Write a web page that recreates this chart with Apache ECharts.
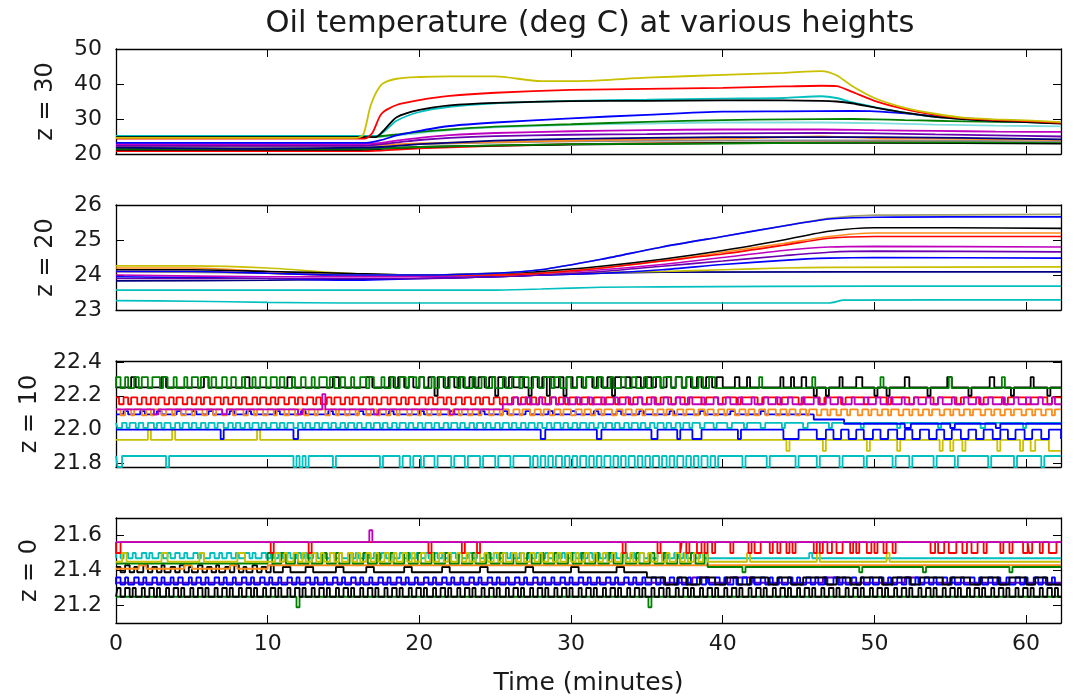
<!DOCTYPE html>
<html><head><meta charset="utf-8">
<script src="https://cdn.jsdelivr.net/npm/echarts@6/dist/echarts.min.js"></script>
<style>html,body{margin:0;padding:0;background:#fff}#c{width:1073px;height:698px}</style>
</head><body><div id="c"></div>
<script>
// ---------- text ----------
const title = 'Oil temperature (deg C) at various heights';
const xName = 'Time (minutes)';
const panelNames = ['z = 30', 'z = 20', 'z = 10', 'z = 0'];
const xTicks = [0, 10, 20, 30, 40, 50, 60];
const yTicks30 = [20, 30, 40, 50];
const yTicks20 = [23, 24, 25, 26];
const yTicks10 = [21.8, 22.0, 22.2, 22.4];
const yTicks0 = [21.2, 21.4, 21.6];

// ---------- z = 30 (flat t,v pairs) ----------
const z30_cyan2 = [0,24.8, 17,24.8, 18.5,25.3, 20,26, 22,26.8, 25,27.6, 30,28.3, 35,28.7, 40,29, 46.5,29, 50,28.8, 54,28.4, 58,28.1, 62.3,27.9];
const z30_redlow = [0,20.8, 16,20.8, 17.5,21, 20,21.6, 25,22.3, 30,22.8, 40,23.2, 50,23.4, 62.3,23.2];
const z30_blacklow = [0,21.2, 16,21.2, 17.5,21.5, 20,22, 25,22.4, 30,22.7, 40,23.1, 50,23.2, 62.3,23];
const z30_greenlow = [0,21.5, 16,21.5, 20,22, 30,22.8, 40,23, 50,23.3, 62.3,23.4];
const z30_gray = [0,22, 16,22, 20,22.8, 30,23.6, 40,23.8, 50,23.9, 62.3,23.6];
const z30_orange = [0,22.4, 16,22.4, 17.5,22.6, 20,23, 25,23.4, 30,23.8, 35,24.2, 40,24.4, 46.5,25, 50,24.5, 54,24.4, 58,24.2, 62.3,24];
const z30_navy = [0,21.8, 6,21.6, 9,21.5, 16,21.8, 17.5,22, 20,22.8, 25,23.8, 30,24.3, 40,24.8, 50,24.8, 62.3,24.2];
const z30_purple = [0,22.3, 16,22.3, 18.5,23.3, 20,24, 22,24.6, 25,25.1, 30,25.5, 35,25.7, 40,25.9, 46.5,26, 50,25.9, 54,25.6, 58,25.3, 62.3,25];
const z30_magenta = [0,22.8, 16,22.8, 17.5,23.2, 18.5,23.8, 20,24.6, 22,25.4, 25,26, 30,26.5, 35,26.8, 40,27, 46.5,27, 50,26.8, 54,26.6, 58,26.4, 62.3,26.3];
const z30_green = [0,25.0, 17,25.0, 18.5,25.6, 20,26.3, 22,27, 25,27.8, 30,28.5, 35,29.2, 40,29.7, 44,29.9, 48.5,30, 50,29.9, 52,29.7, 54,29.5, 56,29.3, 58,29.2, 60,29.1, 62.3,29];
const z30_blue = [0,23.2, 16.5,23.2, 17.5,24, 18.5,25.3, 20,26.6, 22,28, 25,29, 30,30.2, 35,31.2, 40,32.1, 44,32.2, 48.5,32.3, 50,32.2, 52,31.6, 54,30.8, 56,30.2, 58,29.7, 60,29.3, 62.3,28.8];
const z30_cyan = [0,25.2, 17.2,25.2, 17.7,26.5, 18.5,29.5, 20,32, 22,33.5, 25,34.5, 30,35.2, 35,35.5, 40,35.8, 44,36, 46.5,36.5, 47.5,36, 48.5,34.8, 50,33.4, 52,31.8, 54,30.6, 56,29.9, 58,29.4, 60,29.1, 62.3,28.8];
const z30_black = [0,24.8, 17.1,24.8, 17.6,26.5, 18.5,30.5, 20,32.6, 22,33.9, 25,34.6, 30,35.1, 35,35.2, 40,35.3, 44,35.3, 46.5,35.2, 47.5,35, 48.5,34.5, 50,33.3, 52,31.8, 54,30.6, 56,29.9, 58,29.4, 60,29.1, 62.3,28.7];
const z30_red = [0,24.4, 16.4,24.4, 16.9,26, 17.5,31.5, 18.5,34, 20,35.4, 22,36.6, 25,37.5, 30,38.3, 35,38.6, 40,38.9, 44,39.3, 46.5,39.5, 47.5,39.4, 48.5,37.8, 50,35.2, 52,32.8, 54,31.2, 56,30.2, 58,29.7, 60,29.4, 62.3,28.9];
const z30_yellow = [0,24.6, 15.8,24.6, 16.3,25.5, 16.8,34, 17.5,39.8, 18.5,41.5, 20,42, 22,42.2, 25,42.2, 28,40.8, 31,40.9, 35,41.8, 40,42.6, 44,43.2, 46.5,43.7, 47.5,42.5, 48.5,39.5, 50,36, 52,33.2, 54,31.5, 56,30.3, 58,29.9, 60,29.6, 62.3,29.1];

// ---------- z = 20 ----------
const z20_cyanB = [0,23.27, 5,23.25, 10,23.22, 15,23.2, 47,23.2, 48,23.28, 62.3,23.29];
const z20_cyanA = [0,23.57, 25,23.57, 28,23.6, 32,23.65, 36,23.66, 50,23.68, 62.3,23.68];
const z20_navy = [0,23.83, 10,23.85, 20,23.9, 25,23.95, 28,24.0, 32,24.05, 36,24.08, 62.3,24.09];
const z20_yellow = [0,24.26, 5,24.26, 10,24.2, 15,24.05, 20,24.0, 28,24.05, 36,24.1, 40,24.15, 44,24.2, 47,24.22, 62.3,24.23];
const z20_blueB = [0,23.95, 10,23.9, 15,23.85, 20,23.9, 25,23.95, 28,24.0, 32,24.05, 36,24.15, 40,24.3, 44,24.42, 47,24.48, 50,24.5, 62.3,24.48];
const z20_purple = [0,23.9, 20,23.9, 25,23.95, 28,24.0, 32,24.1, 36,24.25, 40,24.4, 44,24.55, 47,24.65, 50,24.68, 62.3,24.66];
const z20_magenta = [0,24.0, 10,23.95, 20,23.95, 25,24.0, 28,24.05, 32,24.15, 36,24.3, 40,24.5, 44,24.7, 47,24.8, 50,24.82, 62.3,24.8];
const z20_orange = [0,24.2, 5,24.2, 10,24.1, 15,24.0, 20,24.0, 25,24.0, 28,24.05, 32,24.2, 36,24.4, 40,24.65, 44,24.9, 47,25.1, 50,25.2, 55,25.2, 62.3,25.2];
const z20_red = [0,24.1, 5,24.1, 10,24.05, 15,24.0, 20,24.0, 25,24.0, 28,24.05, 32,24.2, 36,24.4, 40,24.6, 44,24.85, 47,25.05, 50,25.1, 55,25.1, 62.3,25.1];
const z20_black = [0,24.15, 5,24.15, 10,24.1, 15,24.05, 20,24.0, 25,24.05, 28,24.1, 32,24.25, 36,24.45, 40,24.7, 44,25.0, 47,25.25, 50,25.35, 55,25.35, 62.3,25.33];
const z20_gray = [0,24.1, 10,24.05, 15,24.0, 20,24.0, 25,24.05, 28,24.15, 32,24.45, 36,24.8, 40,25.1, 44,25.4, 47,25.62, 50,25.71, 55,25.72, 62.3,25.73];
const z20_blueA = [0,24.1, 5,24.1, 10,24.05, 15,24.0, 20,24.0, 25,24.05, 28,24.15, 32,24.45, 36,24.8, 40,25.1, 44,25.4, 47,25.6, 50,25.65, 55,25.66, 62.3,25.66];

// ---------- z = 10 ----------
// two-level sensor series: base level, other level, and the [start,end] minutes spent at the other level
const z10_cyanLow_lv = [21.845, 21.78];
const z10_cyanLow_iv = [0.1,0.4, 3.3,3.5, 11.7,11.9, 12.1,12.3, 12.5,12.7, 14.3,14.5, 17.4,17.6, 18.7,18.9, 19.4,19.6, 20.1,20.3, 21.0,21.2, 22.1,22.3, 23.0,23.2, 24.0,24.2, 25.0,25.2, 26.0,26.2, 27.3,27.5, 27.8,28.0, 28.3,28.5, 28.8,29.0, 29.4,29.6, 29.9,30.1, 30.4,30.6, 31.0,31.2, 31.5,31.7, 32.0,32.2, 32.6,32.8, 33.1,33.3, 33.6,33.8, 34.2,34.4, 34.7,34.9, 35.2,35.4, 35.8,36.0, 36.3,36.5, 36.8,37.0, 37.4,37.6, 37.9,38.1, 38.4,38.6, 39.0,39.2, 39.5,39.7, 41.3,41.5, 42.9,43.1, 44.8,45.0, 46.2,46.4, 47.7,47.9, 49.3,49.5, 51.2,51.4, 52.3,52.5, 53.9,54.1, 55.3,55.5, 57.5,57.7, 59.2,59.4, 61.0,61.2];
const z10_yellowLow = [0,21.94, 2.1,22.0, 2.3,21.94, 3.7,22.0, 3.9,21.94, 9.3,22.0, 9.5,21.94, 44.2,21.875, 44.4,21.94, 46.6,21.875, 46.8,21.94, 49.5,21.875, 49.7,21.94, 51.5,21.875, 51.7,21.94, 54.3,21.875, 54.5,21.94, 55.0,21.875, 55.2,21.94, 55.8,21.875, 56.0,21.94, 58.1,21.875, 58.3,21.94, 59.6,21.875, 59.8,21.94, 60.3,21.875, 60.6,21.94, 61.5,21.875, 62.3,21.875];
const z10_blueLow = [0,22.0, 6.9,21.945, 7.1,22.0, 11.7,21.945, 12.0,22.0, 28.0,21.945, 28.3,22.0, 31.7,21.945, 32.0,22.0, 35.3,21.945, 35.7,22.0, 37.0,21.945, 37.2,22.0, 38.0,21.945, 38.6,22.0, 41.0,21.945, 41.2,22.0, 44.0,21.945, 45.0,22.0, 46.2,21.945, 46.8,22.0, 47.3,21.945, 47.8,22.0, 48.3,21.945, 48.8,22.0, 49.3,21.945, 49.9,22.0, 50.4,21.945, 50.9,22.0, 51.5,21.945, 52.0,22.0, 52.5,21.945, 53.0,22.0, 53.6,21.945, 54.1,22.0, 54.6,21.945, 55.1,22.0, 55.7,21.945, 56.2,22.0, 56.7,21.945, 57.2,22.0, 57.8,21.945, 58.3,22.0, 58.8,21.945, 59.3,22.0, 59.9,21.945, 60.4,22.0, 61.0,21.945, 61.5,22.0, 62.3,21.945];
const z10_cyanUp_lv = [22.04, 22.01];
const z10_cyanUp_iv = [0.1,0.4, 0.7,0.9, 1.3,1.5, 1.8,2.1, 2.5,2.7, 3.0,3.2, 3.6,3.9, 4.2,4.4, 4.8,5.0, 5.3,5.6, 5.9,6.1, 6.5,6.7, 7.1,7.4, 7.7,7.9, 8.2,8.5, 8.8,9.0, 9.4,9.6, 9.9,10.2, 10.6,10.8, 11.1,11.3, 11.7,12.0, 12.3,12.5, 12.8,13.1, 13.4,13.6, 14.0,14.2, 14.5,14.8, 15.1,15.3, 15.7,15.9, 16.2,16.5, 16.8,17.0, 17.4,17.6, 17.9,18.2, 18.5,18.7, 19.1,19.3, 19.6,19.9, 20.2,20.4, 20.8,21.0, 21.3,21.6, 21.9,22.1, 22.5,22.7, 23.0,23.3, 23.6,23.8, 24.2,24.4, 24.7,25.0, 25.3,25.5, 25.9,26.1, 26.4,26.7, 27.0,27.2, 27.6,27.8, 28.1,28.4, 28.7,28.9, 29.3,29.5, 29.8,30.1, 30.4,30.6, 31.0,31.2, 31.5,31.8, 32.1,32.3, 32.7,32.9, 33.2,33.5, 33.8,34.0, 34.4,34.6, 34.9,35.2, 35.5,35.7, 36.1,36.3, 36.6,36.9, 37.2,37.4, 37.8,38.0, 38.5,38.8, 39.4,39.6, 40.3,40.6, 41.4,41.6, 42.5,42.8, 43.9,44.1, 45.3,45.6, 47.0,47.2, 49.1,49.3, 51.5,51.7, 54.2,54.4, 57.0,57.3, 59.8,60.0];
const z10_blueUp = [0,22.09, 0.5,22.11, 0.8,22.09, 1.6,22.11, 1.9,22.09, 2.7,22.11, 3.0,22.09, 4.0,22.11, 4.3,22.09, 5.0,22.11, 5.3,22.09, 6.1,22.11, 6.4,22.09, 7.5,22.11, 7.8,22.09, 8.6,22.11, 8.9,22.09, 10.5,22.11, 10.8,22.09, 12.2,22.11, 12.5,22.09, 14.0,22.11, 14.3,22.09, 16.0,22.11, 16.3,22.09, 18.0,22.11, 18.3,22.09, 20.0,22.11, 20.3,22.09, 22.0,22.11, 22.3,22.09, 24.0,22.11, 24.3,22.09, 25.5,22.11, 25.8,22.09, 27.0,22.11, 27.3,22.09, 28.5,22.11, 28.8,22.09, 30.0,22.11, 30.3,22.09, 31.5,22.11, 31.8,22.09, 33.0,22.11, 33.3,22.09, 34.5,22.11, 34.8,22.09, 36.5,22.11, 36.8,22.09, 38.5,22.11, 38.8,22.09, 40.5,22.11, 40.8,22.09, 42.5,22.11, 42.8,22.09, 46.0,22.06, 48.0,22.035, 52.0,22.01, 52.4,22.035, 55.0,22.01, 55.3,22.035, 58.0,22.01, 58.3,22.035, 62.3,22.035];
const z10_orange_lv = [22.12, 22.085];
const z10_orange_iv = [0.3,0.6, 1.0,1.2, 1.7,2.0, 2.3,2.5, 3.0,3.3, 3.7,3.9, 4.3,4.6, 5.0,5.2, 5.7,6.0, 6.4,6.6, 7.0,7.3, 7.7,7.9, 8.4,8.7, 9.1,9.3, 9.7,10.0, 10.4,10.6, 11.1,11.4, 11.8,12.0, 12.4,12.7, 13.1,13.3, 13.8,14.1, 14.5,14.7, 15.1,15.4, 15.8,16.0, 16.5,16.8, 17.2,17.4, 17.8,18.1, 18.5,18.7, 19.2,19.5, 19.9,20.1, 20.5,20.8, 21.2,21.4, 21.9,22.2, 22.6,22.8, 23.2,23.5, 23.9,24.1, 24.6,24.9, 25.3,25.5, 25.9,26.2, 26.6,26.8, 27.3,27.6, 28.0,28.2, 28.6,28.9, 29.3,29.5, 30.0,30.3, 30.7,30.9, 31.3,31.6, 32.0,32.2, 32.7,33.0, 33.4,33.6, 34.0,34.3, 34.7,34.9, 35.4,35.7, 36.1,36.3, 36.7,37.0, 37.4,37.6, 38.1,38.4, 38.8,39.0, 39.4,39.7, 40.1,40.3, 40.8,41.1, 41.5,41.7, 42.1,42.4, 42.8,43.0, 43.5,43.8, 44.2,44.4, 44.8,45.1, 45.5,45.7, 46.2,46.5, 46.9,47.1, 47.5,47.8, 48.2,48.4, 48.9,49.2, 49.6,49.8, 50.2,50.5, 50.9,51.1, 51.6,51.9, 52.3,52.5, 52.9,53.2, 53.6,53.8, 54.3,54.6, 55.0,55.2, 55.6,55.9, 56.3,56.5, 57.0,57.3, 57.7,57.9, 58.3,58.6, 59.0,59.2, 59.7,60.0, 60.4,60.6, 61.0,61.3, 61.7,61.9];
const z10_red_lv = [22.19, 22.15];
const z10_red_iv = [0.2,0.5, 0.8,1.0, 1.4,1.7, 2.0,2.3, 2.6,2.8, 3.2,3.5, 3.8,4.0, 4.4,4.7, 5.0,5.3, 5.6,5.8, 6.2,6.5, 6.9,7.1, 7.4,7.7, 8.1,8.3, 8.6,9.0, 9.3,9.5, 9.9,10.2, 10.5,10.7, 11.1,11.4, 11.8,12.0, 12.3,12.6, 13.0,13.2, 13.5,13.9, 14.2,14.4, 14.8,15.1, 15.4,15.6, 16.0,16.3, 16.7,16.9, 17.2,17.5, 17.9,18.1, 18.5,18.8, 19.1,19.3, 19.7,20.0, 20.4,20.6, 20.9,21.2, 21.6,21.8, 22.1,22.4, 22.8,23.0, 23.4,23.7, 24.0,24.2, 24.6,24.9, 25.3,25.5, 25.8,26.1, 26.5,26.7, 27.1,27.4, 27.7,27.9, 28.3,28.6, 29.0,29.2, 29.6,29.9, 30.4,30.7, 31.2,31.5, 32.0,32.3, 32.9,33.2, 33.8,34.1, 34.7,35.0, 35.6,35.9, 36.6,36.9, 37.5,37.8, 38.6,38.9, 39.7,40.0, 40.9,41.2, 42.3,42.6, 43.6,43.9, 45.0,45.3, 46.4,46.7, 47.8,48.1, 49.3,49.6, 50.8,51.1, 52.3,52.6, 53.9,54.2, 55.4,55.7, 56.9,57.2, 58.5,58.8, 60.0,60.3, 61.4,61.7];
const z10_magenta = [0,22.12, 2.5,22.09, 2.8,22.12, 7.0,22.09, 7.3,22.12, 12.0,22.09, 12.3,22.12, 13.6,22.21, 13.8,22.12, 17.0,22.09, 17.3,22.12, 22.0,22.09, 22.3,22.12, 25.5,22.15, 26.2,22.19, 26.5,22.15, 27.0,22.19, 27.3,22.15, 27.9,22.19, 28.1,22.15, 28.7,22.19, 29.0,22.15, 29.5,22.19, 29.8,22.15, 30.3,22.19, 30.6,22.15, 31.1,22.19, 31.4,22.15, 32.0,22.19, 32.2,22.15, 32.8,22.19, 33.1,22.15, 33.6,22.19, 33.9,22.15, 34.4,22.19, 34.7,22.15, 35.3,22.19, 35.5,22.15, 36.1,22.19, 36.4,22.15, 36.9,22.19, 37.2,22.15, 37.7,22.19, 38.0,22.15, 38.6,22.19, 38.8,22.15, 39.4,22.19, 39.7,22.15, 40.2,22.19, 40.5,22.15, 41.0,22.19, 41.3,22.15, 41.9,22.19, 42.1,22.15, 42.7,22.19, 43.0,22.15, 43.5,22.19, 43.8,22.15, 44.3,22.19, 44.6,22.15, 45.2,22.19, 45.4,22.15, 46.0,22.19, 46.3,22.15, 46.8,22.19, 47.1,22.15, 47.6,22.19, 47.9,22.15, 48.5,22.19, 48.7,22.15, 49.3,22.19, 49.6,22.15, 50.1,22.19, 50.4,22.15, 50.9,22.19, 51.2,22.15, 51.8,22.19, 52.0,22.15, 52.6,22.19, 52.9,22.15, 53.4,22.19, 53.7,22.15, 54.2,22.19, 54.5,22.15, 55.1,22.19, 55.3,22.15, 55.9,22.19, 56.2,22.15, 56.7,22.19, 57.0,22.15, 57.5,22.19, 57.8,22.15, 58.4,22.19, 58.6,22.15, 59.2,22.19, 59.5,22.15, 60.0,22.19, 60.3,22.15, 60.8,22.19, 61.1,22.15, 61.7,22.19, 61.9,22.15, 62.3,22.15];
const z10_black = [0,22.25, 1.0,22.31, 1.3,22.25, 3.0,22.31, 3.3,22.25, 5.8,22.31, 6.1,22.25, 8.5,22.31, 8.8,22.25, 11.3,22.31, 11.6,22.25, 14.3,22.31, 14.7,22.25, 16.5,22.31, 16.9,22.25, 18.0,22.31, 18.3,22.25, 18.6,22.31, 19.0,22.25, 19.3,22.31, 19.6,22.25, 20.0,22.31, 20.3,22.25, 20.6,22.31, 21.0,22.2, 21.2,22.31, 21.6,22.25, 21.9,22.31, 22.3,22.25, 22.6,22.31, 22.9,22.25, 23.3,22.31, 23.6,22.25, 23.9,22.31, 24.3,22.25, 24.6,22.31, 25.0,22.2, 25.2,22.31, 25.6,22.25, 25.9,22.31, 26.2,22.25, 26.6,22.31, 26.9,22.25, 27.2,22.2, 27.4,22.31, 27.8,22.25, 28.1,22.31, 28.4,22.2, 28.6,22.31, 28.9,22.25, 29.2,22.31, 29.5,22.2, 29.7,22.31, 30.1,22.25, 30.4,22.31, 30.7,22.25, 31.0,22.31, 31.4,22.25, 31.7,22.31, 32.0,22.25, 32.4,22.31, 32.7,22.2, 32.9,22.31, 33.3,22.25, 33.6,22.31, 33.9,22.25, 34.3,22.31, 34.6,22.25, 34.9,22.31, 35.3,22.25, 35.6,22.31, 35.9,22.25, 36.3,22.31, 36.6,22.25, 36.9,22.31, 37.3,22.25, 37.6,22.31, 37.9,22.25, 38.3,22.31, 38.6,22.25, 38.9,22.31, 39.3,22.25, 39.6,22.31, 40.0,22.25, 40.8,22.31, 41.1,22.25, 41.6,22.31, 41.8,22.25, 43.8,22.31, 44.0,22.25, 44.5,22.31, 44.7,22.25, 45.2,22.31, 45.5,22.25, 46.0,22.2, 46.2,22.25, 46.8,22.2, 47.0,22.25, 47.7,22.31, 47.9,22.25, 48.8,22.31, 49.2,22.25, 50.0,22.2, 50.2,22.25, 50.8,22.2, 51.0,22.25, 52.0,22.31, 52.3,22.25, 53.5,22.2, 53.7,22.25, 54.8,22.31, 55.1,22.25, 56.2,22.2, 56.4,22.25, 57.6,22.31, 57.9,22.25, 59.0,22.2, 59.2,22.25, 60.3,22.31, 60.5,22.25, 61.4,22.2, 61.6,22.25, 62.3,22.25];
const z10_green_lv = [22.245, 22.31];
const z10_green_iv = [0,0.3, 0.6,0.8, 1.2,1.5, 1.7,2.1, 2.4,2.9, 3.1,3.4, 3.8,4.0, 4.5,4.7, 5.0,5.4, 5.6,6.1, 6.3,6.6, 7.0,7.3, 7.6,7.9, 8.3,8.5, 9.0,9.2, 9.5,9.9, 10.2,10.6, 10.8,11.1, 11.6,11.8, 12.2,12.5, 12.9,13.1, 13.4,13.9, 14.1,14.4, 14.8,15.1, 15.5,15.7, 16.1,16.5, 16.7,17.0, 17.5,17.7, 18.1,18.4, 18.7,19.1, 19.3,19.8, 20.0,20.3, 20.8,21.0, 21.3,21.7, 22.0,22.5, 22.7,23.0, 23.5,23.7, 24.1,24.4, 24.8,25.0, 25.5,25.7, 26.1,26.6, 26.8,27.2, 27.5,27.9, 28.2,28.7, 28.9,29.3, 29.7,30.0, 30.4,30.8, 31.0,31.5, 31.8,32.1, 32.6,32.8, 33.3,33.6, 34.0,34.3, 34.8,35.0, 35.4,35.9, 36.1,36.6, 36.9,37.3, 37.6,38.0, 38.4,38.7, 39.1,39.5, 42.4,42.6, 45.9,46.1, 50.4,50.6, 54.9,55.1, 58.4,58.6];

// ---------- z = 0 ----------
const z0_greenLow = [0,21.25, 11.9,21.19, 12.1,21.25, 35.1,21.19, 35.3,21.25, 62.3,21.25];
const z0_blackLow_lv = [21.25, 21.3];
const z0_blackLow_iv = [0.1,0.3, 0.6,0.9, 1.1,1.3, 1.7,1.9, 2.2,2.5, 2.7,2.9, 3.3,3.5, 3.8,4.1, 4.3,4.5, 4.9,5.1, 5.4,5.7, 5.9,6.1, 6.5,6.7, 7.0,7.3, 7.5,7.7, 8.1,8.3, 8.6,8.9, 9.1,9.3, 9.7,9.9, 10.2,10.5, 10.7,10.9, 11.3,11.5, 11.8,12.1, 12.3,12.5, 12.9,13.1, 13.4,13.7, 13.9,14.1, 14.5,14.7, 15.0,15.3, 15.5,15.7, 16.1,16.3, 16.6,16.9, 17.1,17.3, 17.7,17.9, 18.2,18.5, 18.7,18.9, 19.3,19.5, 19.8,20.1, 20.3,20.5, 20.9,21.1, 21.4,21.7, 21.9,22.1, 22.5,22.7, 23.0,23.3, 23.5,23.7, 24.1,24.3, 24.6,24.9, 25.1,25.3, 25.7,25.9, 26.2,26.5, 26.7,26.9, 27.3,27.5, 27.8,28.1, 28.3,28.5, 28.9,29.1, 29.4,29.7, 29.9,30.1, 30.5,30.7, 31.0,31.3, 31.5,31.7, 32.1,32.3, 32.6,32.9, 33.1,33.3, 33.7,33.9, 34.2,34.5, 34.7,34.9, 35.3,35.5, 35.8,36.1, 36.3,36.5, 36.9,37.1, 37.4,37.7, 37.9,38.1, 38.5,38.7, 39.0,39.3, 39.5,39.7, 40.1,40.3, 40.6,40.9, 41.1,41.3, 41.7,41.9, 42.2,42.5, 42.7,42.9, 43.3,43.5, 43.8,44.1, 44.3,44.5, 44.9,45.1, 45.4,45.7, 45.9,46.1, 46.5,46.7, 47.0,47.3, 47.5,47.7, 48.1,48.3, 48.6,48.9, 49.1,49.3, 49.7,49.9, 50.2,50.5, 50.7,50.9, 51.3,51.5, 51.8,52.1, 52.3,52.5, 52.9,53.1, 53.4,53.7, 53.9,54.1, 54.5,54.7, 55.0,55.3, 55.5,55.7, 56.1,56.3, 56.6,56.9, 57.1,57.3, 57.7,57.9, 58.2,58.5, 58.7,58.9, 59.3,59.5, 59.8,60.1, 60.3,60.5, 60.9,61.1, 61.4,61.7, 61.9,62.1];
const z0_purple = [0,21.33, 36,21.33, 38,21.36, 39,21.33, 40.5,21.36, 42,21.33, 46.6,21.36, 47.7,21.33, 52,21.36, 53,21.33, 62.3,21.33];
const z0_blue_lv = [21.32, 21.36];
const z0_blue_iv = [0.0,0.3, 0.6,0.8, 1.2,1.5, 1.8,2.0, 2.4,2.7, 3.0,3.2, 3.6,3.8, 4.1,4.4, 4.8,5.0, 5.3,5.6, 5.9,6.1, 6.5,6.8, 7.1,7.3, 7.7,7.9, 8.3,8.6, 8.9,9.1, 9.5,9.8, 10.1,10.3, 10.7,10.9, 11.3,11.6, 11.9,12.1, 12.5,12.8, 13.1,13.3, 13.7,13.9, 14.3,14.6, 14.9,15.1, 15.5,15.8, 16.1,16.3, 16.7,16.9, 17.3,17.6, 17.9,18.1, 18.5,18.8, 19.1,19.3, 19.7,19.9, 20.3,20.6, 20.9,21.1, 21.5,21.8, 22.1,22.3, 22.7,22.9, 23.3,23.6, 23.9,24.1, 24.5,24.8, 25.1,25.3, 25.7,25.9, 26.3,26.6, 26.9,27.1, 27.5,27.8, 28.1,28.3, 28.7,28.9, 29.3,29.6, 29.9,30.1, 30.5,30.8, 31.1,31.3, 31.7,31.9, 32.3,32.6, 32.9,33.1, 33.5,33.8, 34.1,34.3, 34.7,34.9, 35.3,35.6, 35.9,36.1, 36.5,36.8, 37.1,37.3, 37.7,37.9, 38.3,38.6, 38.9,39.1, 39.5,39.8, 40.1,40.3, 40.7,40.9, 41.3,41.6, 41.9,42.1, 42.5,42.8, 43.1,43.3, 43.7,43.9, 44.3,44.6, 44.9,45.1, 45.5,45.8, 46.1,46.3, 46.7,46.9, 47.3,47.6, 47.9,48.1, 48.5,48.8, 49.1,49.3, 49.7,49.9, 50.3,50.6, 50.9,51.1, 51.5,51.8, 52.1,52.3, 52.7,52.9, 53.3,53.6, 53.9,54.1, 54.5,54.8, 55.1,55.3, 55.7,55.9, 56.3,56.6, 56.9,57.1, 57.5,57.8, 58.1,58.3, 58.7,58.9, 59.3,59.6, 59.9,60.1, 60.5,60.8, 61.1,61.3, 61.7,61.9];
const z0_blackUp = [0,21.42, 0.3,21.39, 0.6,21.43, 0.9,21.39, 1.2,21.42, 1.4,21.39, 1.8,21.43, 2.1,21.39, 2.4,21.42, 2.7,21.39, 3.0,21.43, 3.2,21.39, 3.6,21.42, 3.9,21.39, 4.2,21.43, 4.5,21.39, 4.8,21.42, 5.0,21.39, 5.4,21.43, 5.7,21.39, 6.0,21.42, 6.3,21.39, 6.6,21.43, 6.8,21.39, 7.2,21.42, 7.5,21.39, 7.8,21.43, 8.1,21.39, 8.4,21.42, 8.6,21.39, 9.0,21.43, 9.3,21.39, 9.6,21.42, 9.9,21.39, 10.2,21.43, 10.4,21.39, 11.0,21.42, 11.5,21.39, 12.5,21.42, 13.0,21.39, 14.5,21.42, 15.0,21.39, 16.5,21.42, 17.0,21.39, 19.0,21.42, 19.5,21.39, 21.5,21.42, 22.0,21.39, 24.0,21.42, 24.5,21.39, 27.0,21.42, 27.5,21.39, 30.0,21.42, 30.5,21.39, 33.0,21.42, 33.5,21.39, 35.0,21.36, 36.2,21.32, 37.0,21.36, 37.6,21.32, 38.5,21.36, 39.5,21.32, 40.2,21.36, 41.0,21.32, 41.8,21.36, 43.0,21.32, 43.6,21.36, 44.5,21.32, 45.3,21.36, 46.8,21.32, 47.5,21.36, 48.4,21.32, 49.1,21.36, 50.5,21.32, 51.2,21.36, 52.4,21.32, 53.0,21.36, 54.5,21.32, 55.0,21.36, 56.3,21.32, 57.0,21.36, 58.2,21.32, 58.9,21.36, 60.0,21.32, 60.6,21.36, 61.4,21.32, 62.3,21.32];
const z0_orange = [0,21.41, 1.5,21.43, 2.0,21.41, 4.5,21.43, 5.0,21.41, 7.5,21.43, 8.0,21.41, 10.0,21.43, 62.3,21.43];
const z0_cyan_lv = [21.47, 21.5];
const z0_cyan_iv = [0.0,0.3, 0.5,0.8, 1.1,1.3, 1.7,2.0, 2.2,2.4, 2.8,3.1, 3.4,3.6, 3.9,4.2, 4.5,4.7, 5.1,5.4, 5.6,5.8, 6.2,6.5, 6.8,7.0, 7.3,7.6, 7.9,8.1, 8.5,8.8, 9.0,9.2, 9.6,9.9, 10.2,10.4, 10.7,11.0, 11.3,11.5, 11.9,12.2, 12.4,12.6, 13.0,13.3, 13.6,13.8, 14.1,14.4, 14.7,14.9, 15.3,15.6, 15.8,16.0, 16.4,16.7, 17.0,17.2, 17.5,17.8, 18.1,18.3, 18.7,19.0, 19.2,19.4, 19.8,20.1, 20.4,20.6, 20.9,21.2, 21.5,21.7, 22.1,22.4, 22.6,22.8, 23.2,23.5, 23.8,24.0, 24.3,24.6, 24.9,25.1, 25.5,25.8, 26.0,26.2, 26.6,26.9, 27.2,27.4, 27.7,28.0, 28.3,28.5, 28.9,29.2, 29.4,29.6, 30.0,30.3, 30.6,30.8, 31.1,31.4, 31.7,31.9, 32.3,32.6, 32.8,33.0, 33.4,33.7, 34.0,34.2, 34.5,34.8, 35.1,35.3, 35.7,36.0, 36.2,36.4, 36.8,37.1, 37.4,37.6, 37.9,38.2, 38.5,38.7, 45.7,45.9];
const z0_green = [0,21.44, 10.0,21.5, 10.3,21.44, 10.9,21.5, 11.2,21.44, 11.8,21.5, 12.0,21.44, 12.7,21.5, 12.9,21.44, 13.6,21.5, 13.9,21.44, 14.5,21.5, 14.7,21.44, 15.4,21.5, 15.6,21.44, 16.3,21.5, 16.6,21.44, 17.2,21.5, 17.4,21.44, 18.1,21.5, 18.3,21.44, 19.0,21.5, 19.3,21.44, 19.9,21.5, 20.1,21.44, 20.8,21.5, 21.0,21.44, 21.7,21.5, 22.0,21.44, 22.6,21.5, 22.8,21.44, 23.5,21.5, 23.7,21.44, 24.4,21.5, 24.7,21.44, 25.3,21.5, 25.5,21.44, 26.2,21.5, 26.4,21.44, 27.1,21.5, 27.4,21.44, 28.0,21.5, 28.2,21.44, 28.9,21.5, 29.1,21.44, 29.8,21.5, 30.1,21.44, 30.7,21.5, 30.9,21.44, 31.6,21.5, 31.8,21.44, 32.5,21.5, 32.8,21.44, 33.4,21.5, 33.6,21.44, 34.3,21.5, 34.5,21.44, 35.2,21.5, 35.5,21.44, 36.1,21.5, 36.3,21.44, 37.0,21.5, 37.2,21.44, 37.9,21.5, 38.2,21.44, 38.8,21.5, 39.0,21.42, 41.3,21.39, 41.5,21.42, 49.0,21.39, 49.2,21.42, 53.2,21.39, 53.4,21.42, 58.9,21.39, 59.1,21.42, 62.3,21.42];
const z0_yellow_lv = [21.45, 21.5];
const z0_yellow_iv = [0.4,0.7, 3.0,3.4, 5.5,5.8, 8.0,8.5, 10.5,10.8, 11.1,11.3, 11.7,12.0, 12.3,12.5, 12.9,13.2, 13.5,13.7, 14.1,14.4, 14.7,14.9, 15.3,15.6, 15.9,16.1, 16.5,16.8, 17.1,17.3, 17.7,18.0, 18.3,18.5, 18.9,19.2, 19.5,19.7, 20.1,20.4, 20.7,20.9, 21.3,21.6, 21.9,22.1, 22.5,22.8, 23.1,23.3, 23.7,24.0, 24.3,24.5, 24.9,25.2, 25.5,25.7, 26.1,26.4, 26.7,26.9, 27.3,27.6, 27.9,28.1, 28.5,28.8, 29.1,29.3, 29.7,30.0, 30.3,30.5, 30.9,31.2, 31.5,31.7, 32.1,32.4, 32.7,32.9, 33.3,33.6, 33.9,34.1, 34.5,34.8, 35.1,35.3, 35.7,36.0, 36.3,36.5, 36.9,37.2, 37.5,37.7, 38.1,38.4, 38.7,39.0, 41.6,41.8, 46.2,46.4, 50.8,51.0];
const z0_red_lv = [21.5625, 21.5];
const z0_red_iv = [0,0.3, 10.2,10.4, 12.7,12.9, 20.6,20.8, 22.8,23.0, 23.8,24.0, 33.4,33.6, 35.7,35.9, 37.2,37.3, 37.6,37.8, 38.3,38.6, 38.8,39.0, 39.3,39.5, 40.5,40.7, 41.7,41.9, 42.1,42.5, 43.1,43.3, 43.6,43.8, 44.2,44.4, 44.6,44.8, 46.0,46.2, 46.4,46.6, 46.9,47.2, 47.5,47.9, 48.4,48.6, 48.8,49.0, 49.5,49.8, 50.0,50.2, 50.6,50.8, 51.2,51.4, 53.7,54.0, 54.2,54.6, 54.9,55.4, 55.8,56.1, 56.4,56.8, 57.2,57.4, 58.3,58.5, 58.9,59.1, 59.8,60.1, 60.2,60.4, 60.9,61.1, 61.5,62.0];
const z0_magenta = [0,21.5625, 16.7,21.63, 16.9,21.5625, 62.3,21.5625];

// ---------- build ----------
const T_END = 62.3;
const C = {b:'#0000ff', g:'#008000', r:'#ff0000', c:'#00bfbf', m:'#bf00bf', y:'#c8c000', k:'#000000',
  o:'#ff8c1a', p:'#6a00b0', n:'#000080', gr:'#8c8c8c', lc:'#80dede', ol:'#a0a070'};
function pairs(flat){const o=[];for(let i=0;i<flat.length;i+=2)o.push([flat[i],flat[i+1]]);return o;}
function levels(lv, iv){
  const o=[[0,lv[0]]];
  for(let i=0;i<iv.length;i+=2){o.push([iv[i],lv[1]]);o.push([iv[i+1],lv[0]]);}
  o.push([T_END,lv[0]]);return o;
}
const panels = [
  {step:false, w:1.8, list:[[pairs(z30_redlow),C.r],[pairs(z30_blacklow),C.k],[pairs(z30_greenlow),C.g],[pairs(z30_gray),C.gr],[pairs(z30_orange),C.o],[pairs(z30_navy),C.n],[pairs(z30_purple),C.p],[pairs(z30_magenta),C.m],[pairs(z30_cyan2),C.lc],[pairs(z30_green),C.g],[pairs(z30_blue),C.b],[pairs(z30_cyan),C.c],[pairs(z30_black),C.k],[pairs(z30_red),C.r],[pairs(z30_yellow),C.y]]},
  {step:false, w:1.7, list:[[pairs(z20_cyanB),C.c],[pairs(z20_cyanA),C.c],[pairs(z20_navy),C.n],[pairs(z20_yellow),C.y],[pairs(z20_blueB),C.b],[pairs(z20_purple),C.p],[pairs(z20_magenta),C.m],[pairs(z20_orange),C.o],[pairs(z20_red),C.r],[pairs(z20_black),C.k],[pairs(z20_gray),C.ol],[pairs(z20_blueA),C.b]]},
  {step:true, w:1.8, list:[[levels(z10_cyanLow_lv,z10_cyanLow_iv),C.c],[pairs(z10_yellowLow),C.y],[pairs(z10_blueLow),C.b],[levels(z10_cyanUp_lv,z10_cyanUp_iv),C.c],[pairs(z10_blueUp),C.b],[levels(z10_orange_lv,z10_orange_iv),C.o],[levels(z10_red_lv,z10_red_iv),C.r],[pairs(z10_magenta),C.m],[pairs(z10_black),C.k],[levels(z10_green_lv,z10_green_iv),C.g]]},
  {step:true, w:1.8, list:[[pairs(z0_greenLow),C.g],[levels(z0_blackLow_lv,z0_blackLow_iv),C.k],[pairs(z0_purple),C.p],[levels(z0_blue_lv,z0_blue_iv),C.b],[pairs(z0_blackUp),C.k],[pairs(z0_orange),C.o],[levels(z0_cyan_lv,z0_cyan_iv),C.c],[pairs(z0_green),C.g],[levels(z0_yellow_lv,z0_yellow_iv),C.y],[levels(z0_red_lv,z0_red_iv),C.r],[pairs(z0_magenta),C.m]]}
];
const yCfg = [
  {min:20, max:50, ticks:yTicks30, fmt:v=>String(v)},
  {min:23, max:26, ticks:yTicks20, fmt:v=>String(v)},
  {min:21.78, max:22.405, ticks:yTicks10, fmt:v=>v.toFixed(1)},
  {min:21.1, max:21.7, ticks:yTicks0, fmt:v=>v.toFixed(1)}
];
const gridPos = [{top:49,height:105},{top:205,height:105},{top:361,height:106},{top:518,height:105}];
const FONT = 'DejaVu Sans';
const TXT = '#1a1a1a';
const lineAx = {show:true, onZero:false, lineStyle:{color:'#000', width:1.3}};
const grid=[], xAxis=[], yAxis=[], series=[];
gridPos.forEach((g,i)=>{
  grid.push({left:116, width:945, top:g.top, height:g.height, containLabel:false});
  const last = i===3;
  xAxis.push({type:'value', gridIndex:i, position:'bottom', min:0, max:T_END,
    axisLine:lineAx, splitLine:{show:false},
    axisTick:{show:true, inside:true, length:8, lineStyle:{color:'#000'}, customValues:xTicks},
    axisLabel:{show:last, customValues:xTicks, margin:10, color:TXT, fontFamily:FONT, fontSize:22},
    name: last? xName : '', nameLocation:'middle', nameGap:48,
    nameTextStyle:{color:TXT, fontFamily:FONT, fontSize:25}});
  xAxis.push({type:'value', gridIndex:i, position:'top', min:0, max:T_END,
    axisLine:lineAx, splitLine:{show:false},
    axisTick:{show:true, inside:true, length:8, lineStyle:{color:'#000'}, customValues:xTicks},
    axisLabel:{show:false}});
  const yc = yCfg[i];
  yAxis.push({type:'value', gridIndex:i, position:'left', min:yc.min, max:yc.max,
    axisLine:lineAx, splitLine:{show:false},
    axisTick:{show:true, inside:true, length:8, lineStyle:{color:'#000'}, customValues:yc.ticks},
    axisLabel:{show:true, customValues:yc.ticks, formatter:yc.fmt, margin:14, color:TXT, fontFamily:FONT, fontSize:22},
    name:panelNames[i], nameLocation:'middle', nameGap:58, nameRotate:90,
    nameTextStyle:{color:TXT, fontFamily:FONT, fontSize:24}});
  yAxis.push({type:'value', gridIndex:i, position:'right', min:yc.min, max:yc.max,
    axisLine:lineAx, splitLine:{show:false},
    axisTick:{show:true, inside:true, length:8, lineStyle:{color:'#000'}, customValues:yc.ticks},
    axisLabel:{show:false}});
  panels[i].list.forEach(([d,col])=>{
    series.push({type:'line', xAxisIndex:2*i, yAxisIndex:2*i, data:d,
      step: panels[i].step ? 'end' : false, smooth: panels[i].step ? false : 0.25,
      showSymbol:false, symbol:'none', silent:true, clip:true,
      lineStyle:{color:col, width:panels[i].w}, itemStyle:{color:col}});
  });
});
const chart = echarts.init(document.getElementById('c'), null, {renderer:'canvas'});
chart.setOption({
  animation:false, backgroundColor:'#fff',
  grid, xAxis, yAxis, series,
  graphic:[{type:'text', x:590, y:24, style:{text:title, fill:TXT, font:'30.5px "DejaVu Sans"', textAlign:'center', textVerticalAlign:'middle'}}]
});
</script></body></html>
